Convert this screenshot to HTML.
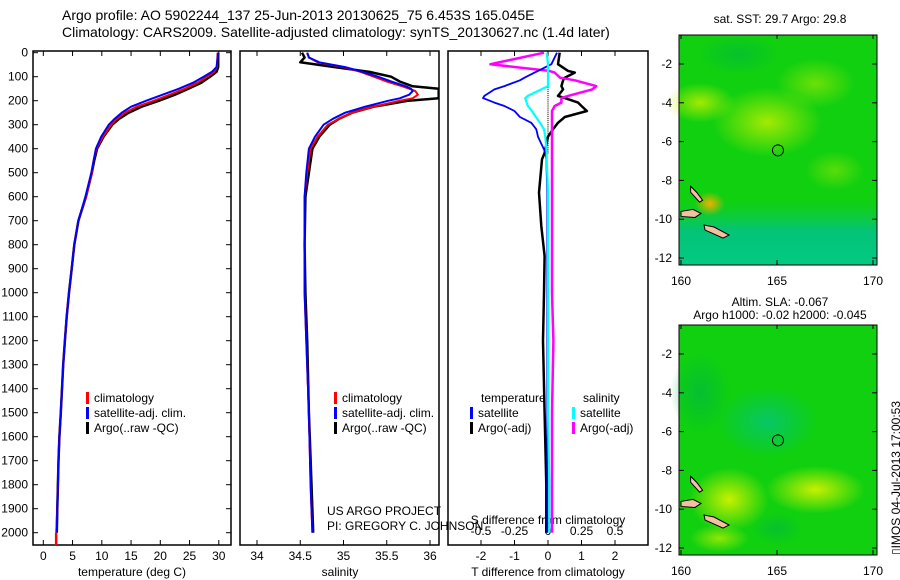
<!DOCTYPE html>
<html><head><meta charset="utf-8"><style>
body{margin:0;background:#fff;}
svg{display:block;font-family:"Liberation Sans",sans-serif;}
</style></head><body>
<svg id="fig" width="900" height="580">
<defs>
<radialGradient id="y1"><stop offset="0" stop-color="#c8f000"/><stop offset="1" stop-color="#c8f000" stop-opacity="0"/></radialGradient>
<radialGradient id="o1"><stop offset="0" stop-color="#f0b000"/><stop offset="1" stop-color="#f0b000" stop-opacity="0"/></radialGradient>
<radialGradient id="t1"><stop offset="0" stop-color="#00c0a0"/><stop offset="1" stop-color="#00c0a0" stop-opacity="0"/></radialGradient>
<radialGradient id="g1"><stop offset="0" stop-color="#00b840"/><stop offset="1" stop-color="#00b840" stop-opacity="0"/></radialGradient>
<linearGradient id="sea1" x1="0" y1="0" x2="0" y2="1"><stop offset="0.72" stop-color="#10c860" stop-opacity="0"/><stop offset="0.85" stop-color="#00c090" stop-opacity="0.8"/><stop offset="1" stop-color="#00c8a0" stop-opacity="0.8"/></linearGradient>
</defs>
<g id="titles" font-size="14">
<text x="62" y="20">Argo profile: AO 5902244_137 25-Jun-2013 20130625_75 6.453S 165.045E</text>
<text x="62" y="37">Climatology: CARS2009. Satellite-adjusted climatology: synTS_20130627.nc (1.4d later)</text>
</g>
<g id="p1"></g>
<g id="p2"></g>
<g id="p3"></g>
<g id="maps"></g>
<text x="327" y="515" font-size="12">US ARGO PROJECT</text>
<text x="327" y="530" font-size="12">PI: GREGORY C. JOHNSON</text>
<text transform="translate(900,555) rotate(-90)" font-size="12">▯IMOS 04-Jul-2013 17:00:53</text>
</svg>
<script>
// ---- data ----
const depthT = [0,60,80,100,125,150,175,200,225,250,275,300,350,400,450,500,600,700,800,900,1000,1100,1200,1300,1400,1500,1600,1700,1800,1900,2000];
const tempArgo = [29.9,29.9,29.6,28.5,27.0,24.8,22.5,19.8,16.8,14.6,13.0,11.8,10.3,9.2,8.7,8.3,7.3,6.0,5.3,4.85,4.4,4.0,3.7,3.4,3.2,3.0,2.75,2.6,2.5,2.4,2.3];
const tempClim = [29.8,29.7,29.2,28.0,26.4,24.2,21.6,18.9,16.0,14.0,12.6,11.6,10.2,9.1,8.6,8.3,7.3,6.0,5.3,4.85,4.4,4.0,3.7,3.4,3.2,3.0,2.75,2.6,2.5,2.4,2.2];
const tempSat  = [29.9,29.6,28.8,27.4,25.6,23.2,20.4,17.6,15.0,13.4,12.2,11.2,9.9,9.0,8.6,8.2,7.2,6.0,5.3,4.85,4.4,4.0,3.7,3.4,3.2,3.0,2.75,2.6,2.5,2.4,2.3];
const depthS = [0,20,40,60,80,100,120,140,150,160,175,190,200,225,250,275,300,350,400,500,600,800,1000,1200,1500,1800,2000];
const salArgo = [34.52,34.55,34.5,34.9,35.3,35.55,35.65,35.8,36.1,36.1,36.1,36.1,35.75,35.35,35.1,34.95,34.84,34.72,34.64,34.6,34.56,34.55,34.56,34.58,34.6,34.63,34.65];
const salClim = [34.58,34.6,34.7,35.0,35.2,35.35,35.5,35.68,35.76,35.83,35.86,35.8,35.65,35.35,35.1,34.95,34.82,34.7,34.62,34.58,34.55,34.55,34.55,34.57,34.6,34.62,34.64];
const salSat  = [34.58,34.6,34.72,35.02,35.22,35.4,35.55,35.72,35.78,35.8,35.76,35.65,35.52,35.25,35.02,34.88,34.77,34.67,34.6,34.57,34.55,34.55,34.55,34.57,34.6,34.62,34.64];
const depthD = [0,48,76,83,104,115,139,153,180,189,208,222,243,268,292,319,350,418,444,583,722,847,1000,1200,1500,1800,2000];
const dTsat  = [0.27,0.1,-0.3,-0.4,-0.7,-0.84,-1.3,-1.6,-1.9,-1.94,-1.6,-1.3,-1.0,-0.84,-0.5,-0.35,-0.3,-0.07,-0.05,-0.02,-0.02,-0.02,-0.02,-0.02,-0.02,-0.02,-0.02];
const dTargo = [0.35,0.3,0.6,0.8,0.5,0.45,0.4,0.45,0.3,0.5,0.9,1.0,1.16,0.5,0.3,0.15,0.0,-0.1,-0.18,-0.27,-0.2,-0.1,-0.12,-0.15,-0.1,-0.05,-0.05];
const dSsat  = [-0.01,0,0,0,0,0,0,-0.05,-0.15,-0.17,-0.16,-0.15,-0.12,-0.09,-0.06,-0.03,-0.02,-0.01,-0.01,0,0,0,0,0,0,0.01,0.01];
const dSargo = [-0.03,-0.43,0.01,0.05,0.09,0.2,0.36,0.33,0.15,0.1,0.1,0.05,0.03,0.03,0.03,0.03,0.03,0.03,0.03,0.03,0.03,0.03,0.03,0.04,0.03,0.03,0.03];
const depthTicks = [0,100,200,300,400,500,600,700,800,900,1000,1100,1200,1300,1400,1500,1600,1700,1800,1900,2000];
const tTicks=[0,5,10,15,20,25,30], sTicks=[34,34.5,35,35.5,36], dTTicks=[-2,-1,0,1,2], dSTicks=[-0.5,-0.25,0,0.25,0.5];
const latTicks=[-2,-4,-6,-8,-10,-12], lonTicks=[160,165,170];
// ---- helpers ----
const NS='http://www.w3.org/2000/svg';
function mk(tag,attrs,parent){const e=document.createElementNS(NS,tag);for(const k in attrs)e.setAttribute(k,attrs[k]);parent.appendChild(e);return e;}
const yD = d => 52.7 + 0.24*d;
const TOP=51, BOT=545;
function frame(g,x0,x1){const r=mk('rect',{x:x0,y:TOP,width:x1-x0,height:BOT-TOP,fill:'none',stroke:'#000','stroke-width':1.5},g);}
function line(g,xs,ys,xf,color,w,name){let d='';xs.forEach((v,i)=>{d+=(i?'L':'M')+xf(v).toFixed(1)+','+yD(ys[i]).toFixed(1);});const p=mk('path',{d:d,fill:'none',stroke:color,'stroke-width':w,'stroke-linejoin':'round'},g);}
function xticks(g,ticks,xf,y,labels){ticks.forEach(t=>{const x=xf(t);mk('line',{x1:x,x2:x,y1:BOT,y2:BOT-5,stroke:'#000'},g);mk('line',{x1:x,x2:x,y1:TOP,y2:TOP+5,stroke:'#000'},g);if(labels){const tx=mk('text',{x:x,y:y,'font-size':12,'text-anchor':'middle'},g);tx.textContent=String(t);}});}
function legend(g,x,y,items){items.forEach((it,i)=>{mk('rect',{x:x,y:y+i*15-10,width:3,height:12,fill:it[0]},g);const t=mk('text',{x:x+8,y:y+i*15,'font-size':12},g);t.textContent=it[1];});}
function label(g,x,y,s,name,anchor){const t=mk('text',{x:x,y:y,'font-size':12,'text-anchor':anchor||'middle'},g);t.textContent=s;}
// ---- panel 1 ----
const p1=document.getElementById('p1');const xT=t=>43.3+5.85*t;
frame(p1,33,231);
depthTicks.forEach(d=>{mk('line',{x1:33,x2:38,y1:yD(d),y2:yD(d),stroke:'#000'},p1);mk('line',{x1:231,x2:226,y1:yD(d),y2:yD(d),stroke:'#000'},p1);label(p1,28,yD(d)+4,String(d),'y-tick-label','end');});
xticks(p1,tTicks,xT,560,true);
line(p1,tempArgo,depthT,xT,'#000',2.5,'argo-temperature-line');
line(p1,tempClim,depthT,xT,'#f00',2,'climatology-temperature-line');
line(p1,tempSat,depthT,xT,'#00f',2,'satellite-temperature-line');
mk('line',{x1:xT(2.2),x2:xT(2.2),y1:yD(2000),y2:BOT,stroke:'#f00','stroke-width':2.5},p1);
legend(p1,86,402,[['#f00','climatology'],['#00f','satellite-adj. clim.'],['#000','Argo(..raw -QC)']]);
label(p1,132,576,'temperature (deg C)','x-axis-title');
// ---- panel 2 ----
const p2=document.getElementById('p2');const xS=s=>257+86.5*(s-34);
frame(p2,240,439);
xticks(p2,sTicks,xS,560,true);
const p2c=mk('g',{'clip-path':'url(#c2)'},p2);
mk('rect',{x:240,y:TOP,width:199,height:BOT-TOP},mk('clipPath',{id:'c2'},p2));
line(p2c,salArgo,depthS,xS,'#000',2.5,'argo-salinity-line');
line(p2c,salClim,depthS,xS,'#f00',2,'climatology-salinity-line');
line(p2c,salSat,depthS,xS,'#00f',2,'satellite-salinity-line');
legend(p2,334,402,[['#f00','climatology'],['#00f','satellite-adj. clim.'],['#000','Argo(..raw -QC)']]);
label(p2,340,576,'salinity','x-axis-title');
// ---- panel 3 ----
const p3=document.getElementById('p3');const xDT=t=>548+33.5*t;const xDS=s=>548+134*s;
frame(p3,448,648);
xticks(p3,dTTicks,xDT,560,true);
dSTicks.forEach(s=>{label(p3,xDS(s),535,String(s),'s-tick-label');});
label(p3,548,524,'S difference from climatology','s-axis-title');
for(let d=0;d<420;d+=8){mk('rect',{x:547.5,y:yD(d),width:1,height:1,fill:'#000'},p3);}
line(p3,dTargo,depthD,xDT,'#000',2.5,'argo-t-diff-line');
line(p3,dSargo,depthD,xDS,'#f0f',2.5,'argo-s-diff-line');
line(p3,dTsat,depthD,xDT,'#00f',1.8,'satellite-t-diff-line');
line(p3,dSsat,depthD,xDS,'#0ff',2.2,'satellite-s-diff-line');
label(p3,481,402,'temperature','legend-title','start');label(p3,583,402,'salinity','legend-title','start');
legend(p3,470,417,[['#00f','satellite'],['#000','Argo(-adj)']]);
legend(p3,572,417,[['#0ff','satellite'],['#f0f','Argo(-adj)']]);
label(p3,548,576,'T difference from climatology','x-axis-title');
// ---- maps ----
const mg=document.getElementById('maps');
function map(y0,y1,mapId,title1,title2,sla){
  const g=mk('g',{},mg);
  const xL=l=>681+19.2*(l-160), yL=(y0===35)?(la=>64+19.4*(-2-la)):(la=>354+19.4*(-2-la));
  mk('rect',{x:679,y:y0,width:198,height:y1-y0,fill:'#10d010'},g);
  if(!sla){
    mk('ellipse',{cx:xL(164.5),cy:yL(-5),rx:55,ry:35,fill:'url(#y1)',opacity:0.8},g);
    mk('ellipse',{cx:xL(161),cy:yL(-4),rx:35,ry:20,fill:'url(#y1)',opacity:0.8},g);
    mk('ellipse',{cx:xL(167),cy:yL(-3),rx:40,ry:25,fill:'url(#y1)',opacity:0.5},g);
    mk('ellipse',{cx:xL(168),cy:yL(-7.5),rx:30,ry:20,fill:'url(#y1)',opacity:0.4},g);
    mk('ellipse',{cx:xL(163),cy:yL(-1.5),rx:40,ry:20,fill:'url(#g1)',opacity:0.6},g);
    mk('rect',{x:679,y:y0,width:198,height:y1-y0,fill:'url(#sea1)'},g);
    mk('ellipse',{cx:xL(161.5),cy:yL(-9.2),rx:15,ry:12,fill:'url(#o1)'},g);
  } else {
    mk('ellipse',{cx:xL(164.5),cy:yL(-5.5),rx:50,ry:35,fill:'url(#t1)',opacity:0.6},g);
    mk('ellipse',{cx:xL(161),cy:yL(-4),rx:30,ry:40,fill:'url(#g1)',opacity:0.7},g);
    mk('ellipse',{cx:xL(162.5),cy:yL(-9.5),rx:40,ry:32,fill:'url(#y1)'},g);
    mk('ellipse',{cx:xL(167),cy:yL(-9),rx:50,ry:24,fill:'url(#y1)'},g);
    mk('ellipse',{cx:xL(162),cy:yL(-11.5),rx:30,ry:14,fill:'url(#y1)',opacity:0.7},g);
    mk('ellipse',{cx:xL(165),cy:yL(-11),rx:25,ry:16,fill:'url(#g1)',opacity:0.6},g);
  }
  mk('path',{d:`M${xL(160)},${yL(-9.6)} l12,-2 l8,4 l-6,4 l-14,-1z`,fill:'#f5c0a0',stroke:'#000','stroke-width':1},g);
  mk('path',{d:`M${xL(161.2)},${yL(-10.3)} l10,2 l15,8 l-6,3 l-18,-8z`,fill:'#f5c0a0',stroke:'#000','stroke-width':1},g);
  mk('path',{d:`M${xL(160.5)},${yL(-8.3)} l6,6 l6,8 l-3,2 l-9,-10z`,fill:'#f5c0a0',stroke:'#000','stroke-width':1},g);
  mk('circle',{cx:xL(165.05),cy:yL(-6.45),r:5.5,fill:'none',stroke:'#000','stroke-width':1},g);
  mk('rect',{x:679,y:y0,width:198,height:y1-y0,fill:'none',stroke:'#000'},g);
  latTicks.forEach(la=>{mk('line',{x1:679,x2:684,y1:yL(la),y2:yL(la),stroke:'#000'},g);mk('line',{x1:877,x2:872,y1:yL(la),y2:yL(la),stroke:'#000'},g);label(g,672,yL(la)+4,String(la),'lat-tick-label','end');});
  lonTicks.forEach(lo=>{mk('line',{x1:xL(lo),x2:xL(lo),y1:y1,y2:y1-5,stroke:'#000'},g);mk('line',{x1:xL(lo),x2:xL(lo),y1:y0,y2:y0+4,stroke:'#000'},g);label(g,xL(lo),y1+20,String(lo),'lon-tick-label');});
  if(title2){label(g,780,y0-19,title1,'map-title');label(g,780,y0-6,title2,'map-subtitle');}else label(g,780,y0-12,title1,'map-title');
}
map(35,265,'sst-map','sat. SST: 29.7 Argo: 29.8',null,false);
map(325,555,'sla-map','Altim. SLA: -0.067','Argo h1000: -0.02 h2000: -0.045',true);
</script>
</body></html>
